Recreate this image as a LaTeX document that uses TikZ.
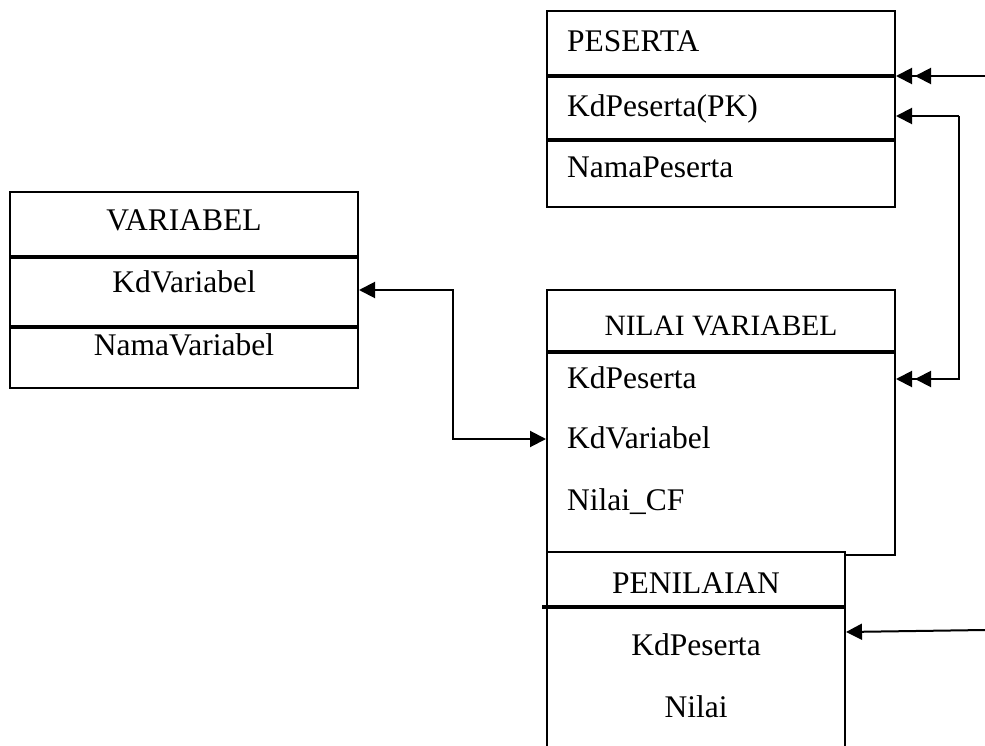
\documentclass[tikz,border=0pt]{standalone}
\usepackage{fontspec}
\setmainfont{Liberation Serif}
\usetikzlibrary{arrows.meta}

\tikzset{
  tabel/.style={draw, line width=2pt, fill=white, inner sep=0pt},
  sekat/.style={line width=3.2pt},
  teks/.style={inner sep=0pt, font=\fontsize{31.5}{36}\selectfont},
  relasi/.style={line width=2pt},
  dua/.style={-{Triangle[length=16pt,width=16pt,sep=3pt]Triangle[length=16pt,width=16pt]}},
}

\begin{document}
\begin{tikzpicture}[line join=miter,>={Triangle[length=16pt,width=16pt]},x=1pt,y=-1pt]
		\useasboundingbox (0,0) rectangle (985,746);
		\clip (0,0) rectangle (985,746);
		% Tabel PESERTA
		\node[tabel, minimum width=348pt, minimum height=196pt] (peserta) at (721,109) {};
		\draw[sekat] (peserta.west |- 0,76) -- (peserta.east |- 0,76);
		\draw[sekat] (peserta.west |- 0,140) -- (peserta.east |- 0,140);
		\node[teks, anchor=base west] (pjudul) at (567,52) {PESERTA};
		\node[teks, anchor=base west] (pkd) at (567,117) {KdPeserta(PK)};
		\node[teks, anchor=base west] (pnama) at (567,178) {NamaPeserta};
		% Tabel VARIABEL
		\node[tabel, minimum width=348pt, minimum height=196pt] (variabel) at (184,290) {};
		\draw[sekat] (variabel.west |- 0,257) -- (variabel.east |- 0,257);
		\draw[sekat] (variabel.west |- 0,327) -- (variabel.east |- 0,327);
		\node[teks, anchor=base] (vjudul) at (184,230) {VARIABEL};
		\node[teks, anchor=base] (vkd) at (184,292) {KdVariabel};
		\node[teks, anchor=base] (vnama) at (184,355) {NamaVariabel};
		% Tabel NILAI VARIABEL
		\node[tabel, minimum width=348pt, minimum height=265pt] (nilai) at (721,422.5) {};
		\draw[sekat] (nilai.west |- 0,352) -- (nilai.east |- 0,352);
		\node[teks, anchor=base, font=\fontsize{29.5}{34}\selectfont] (njudul) at (721,335) {NILAI VARIABEL};
		\node[teks, anchor=base west] (nkdp) at (567,388) {KdPeserta};
		\node[teks, anchor=base west] (nkdv) at (567,448) {KdVariabel};
		\node[teks, anchor=base west] (ncf) at (567,510) {Nilai\_CF};
		% Tabel PENILAIAN (terpotong di bawah)
		\node[tabel, minimum width=298pt, minimum height=218pt] (penilaian) at (696,661) {};
		\draw[sekat] ([xshift=-4pt]penilaian.west |- 0,607) -- (penilaian.east |- 0,607);
		\node[teks, anchor=base] (pnjudul) at (696,593) {PENILAIAN};
		\node[teks, anchor=base] (pnkd) at (696,655) {KdPeserta};
		\node[teks, anchor=base] (pnnilai) at (696,717) {Nilai};
		% relasi
		\coordinate (luar1) at (985,76);
		\coordinate (luar2) at (985,630);
		\coordinate (belok1) at (959,0);
		\coordinate (belok2) at (453,0);
		\draw[relasi, dua] (luar1) -- (peserta.east |- 0,76);
		\draw[relasi, dua] (belok1 |- 0,116) -- (belok1 |- 0,379) -- (nilai.east |- 0,379);
		\draw[relasi, <-] (peserta.east |- 0,116) -- (belok1 |- 0,116);
		\draw[relasi, <->] (variabel.east |- 0,290) -| (belok2 |- 0,439) -- (nilai.west |- 0,439);
		\draw[relasi, ->] (luar2) -- (penilaian.east |- 0,632);
		\end{tikzpicture}
\end{document}
